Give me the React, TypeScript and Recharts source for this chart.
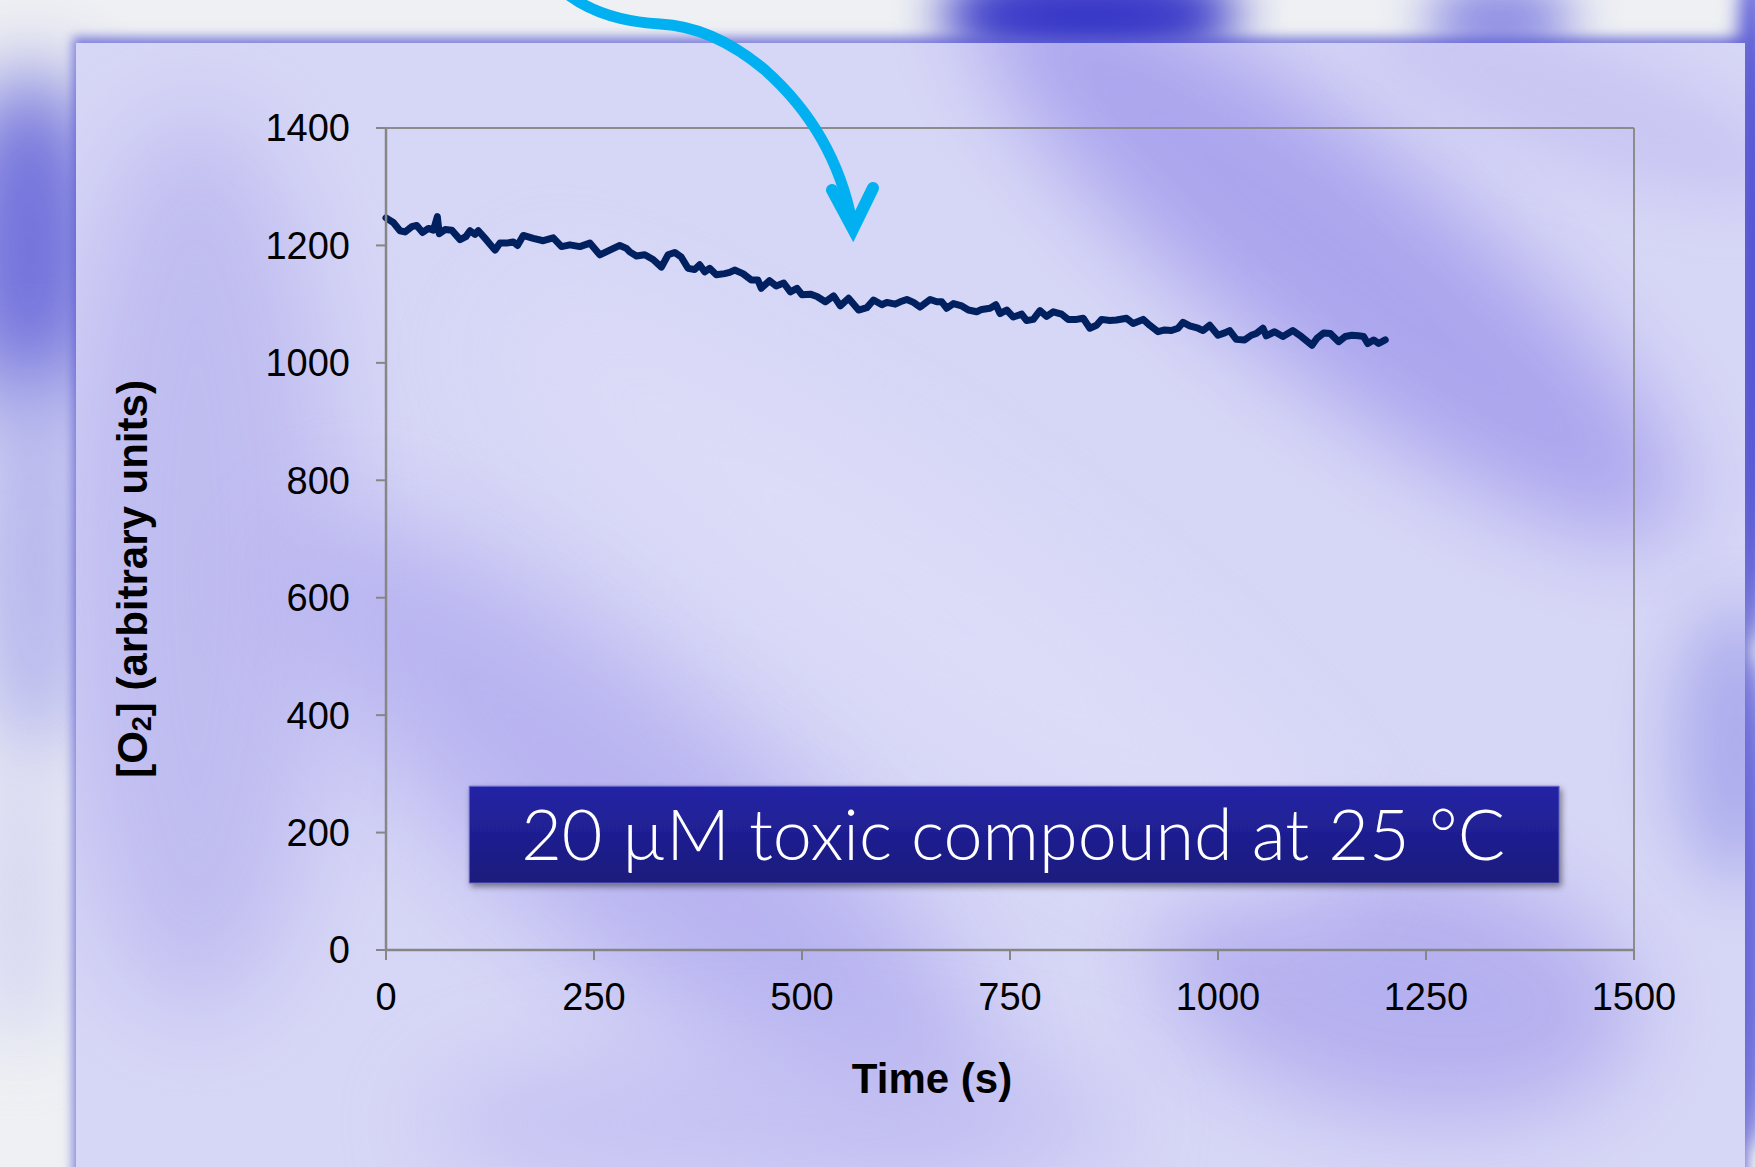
import React from 'react';
import { LineChart, Line, XAxis, YAxis, ReferenceLine, ReferenceArea, Label } from 'recharts';

const timeS: number[] = [
  0, 8.8, 16.8, 22.8, 30.9, 36.9, 44, 51, 57, 61.7, 64, 71, 79, 89, 96, 101, 107, 111, 121, 131,
  137, 145, 153, 158, 165, 177, 189, 201, 211, 221, 233, 245, 257, 269, 281, 289, 293, 301, 311, 321,
  331, 339, 347, 355, 363, 371, 377, 383, 389, 397, 407, 413, 419, 429, 439, 447, 451, 461, 469, 478,
  486, 494, 500, 510, 518, 528, 538, 546, 556, 568, 578, 586, 596, 602, 612, 618, 626, 634, 642, 654,
  662, 668, 674, 682, 692, 700, 710, 716, 726, 733, 738, 746, 754, 764, 770, 778, 786, 794, 802, 812,
  820, 830, 838, 846, 854, 860, 870, 878, 890, 898, 910, 918, 928, 936, 944, 952, 958, 966, 976, 982,
  990, 1000, 1008, 1014, 1022, 1032, 1040, 1046, 1054, 1058, 1068, 1078, 1090, 1100, 1113, 1119, 1127, 1135, 1145, 1153,
  1161, 1169, 1175, 1180, 1187, 1193, 1201,
];

const o2Values: number[] = [
  1247, 1239, 1225, 1223, 1232, 1234, 1222, 1229, 1226, 1249, 1220, 1227, 1226, 1210, 1215, 1225, 1219, 1225, 1209, 1192,
  1204, 1204, 1206, 1200, 1217, 1212, 1208, 1213, 1198, 1201, 1198, 1204, 1184, 1192, 1200, 1195, 1189, 1182, 1184, 1176,
  1163, 1184, 1188, 1180, 1161, 1159, 1167, 1155, 1161, 1150, 1152, 1154, 1158, 1152, 1141, 1141, 1127, 1140, 1131, 1136,
  1121, 1127, 1116, 1117, 1113, 1104, 1114, 1097, 1110, 1090, 1094, 1107, 1099, 1103, 1100, 1104, 1108, 1103, 1095, 1108,
  1104, 1104, 1093, 1101, 1097, 1090, 1087, 1091, 1093, 1099, 1084, 1090, 1078, 1083, 1072, 1074, 1089, 1079, 1087, 1083,
  1074, 1074, 1076, 1059, 1064, 1074, 1072, 1073, 1076, 1067, 1074, 1064, 1053, 1056, 1055, 1059, 1069, 1063, 1059, 1055,
  1064, 1047, 1051, 1055, 1040, 1039, 1047, 1050, 1059, 1046, 1053, 1045, 1055, 1045, 1030, 1042, 1051, 1050, 1036, 1045,
  1047, 1046, 1045, 1033, 1039, 1033, 1039,
];

const xTicks: number[] = [0, 250, 500, 750, 1000, 1250, 1500];
const yTicks: number[] = [0, 200, 400, 600, 800, 1000, 1200, 1400];

const xTitle = 'Time (s)';
const yTitleParts: string[] = ['[O', '2', '] (arbitrary units)'];
const boxText = '20 µM toxic compound at 25 °C';
const boxRange = { x1: 100, x2: 1410, y1: 114, y2: 279 };

const data = timeS.map((t, i) => ({ t, o2: o2Values[i] }));

const AXIS_FONT = '"Liberation Sans", Arial, Helvetica, sans-serif';

const YTitle = (props: any) => {
  const vb = props.viewBox || {};
  const cx = vb.x + vb.width - 254;
  const cy = vb.y + vb.height / 2 + 40;
  return (
    <text
      x={cx}
      y={cy}
      transform={`rotate(-90 ${cx} ${cy})`}
      textAnchor="middle"
      dominantBaseline="central"
      fontFamily={AXIS_FONT}
      fontWeight="bold"
      fontSize={42}
      fill="#000"
    >
      <tspan>{yTitleParts[0]}</tspan>
      <tspan fontSize={27} dy={10}>{yTitleParts[1]}</tspan>
      <tspan dy={-10}>{yTitleParts[2]}</tspan>
    </text>
  );
};

const XTitle = (props: any) => {
  const vb = props.viewBox || {};
  const cx = vb.x + vb.width / 2 - 78;
  const cy = vb.y + 128;
  return (
    <text
      x={cx}
      y={cy}
      textAnchor="middle"
      dominantBaseline="central"
      fontFamily={AXIS_FONT}
      fontWeight="bold"
      fontSize={42}
      fill="#000"
    >
      {xTitle}
    </text>
  );
};

const BoxLabel = (props: any) => {
  const vb = props.viewBox || {};
  const cx = vb.x + vb.width / 2 - 1;
  const cy = vb.y + vb.height / 2 + 25;
  return (
    <text
      x={cx}
      y={cy}
      textAnchor="middle"
      fontFamily='Lato, "Open Sans", "Noto Sans", sans-serif'
      fontWeight={300}
      fontSize={70}
      fill="#ffffff"
      textLength={984}
      lengthAdjust="spacingAndGlyphs"
    >
      {boxText}
    </text>
  );
};

const blob = (
  left: number,
  top: number,
  w: number,
  h: number,
  color: string,
  blur: number,
  rot: number,
  opacity = 1
): React.CSSProperties => ({
  position: 'absolute',
  left: left - w / 2,
  top: top - h / 2,
  width: w,
  height: h,
  background: color,
  borderRadius: '50%',
  filter: `blur(${blur}px)`,
  transform: `rotate(${rot}deg)`,
  opacity,
});

export default function App() {
  return (
    <div
      style={{
        position: 'absolute',
        left: 0,
        top: 0,
        width: 1755,
        height: 1167,
        overflow: 'hidden',
        background: '#eef0f3',
      }}
    >
      {/* outer background decorations */}
      <div style={blob(30, 250, 160, 360, '#5c5cd8', 40, 0, 0.85)} />
      <div style={blob(35, 560, 130, 420, '#b0b0ee', 40, 0, 0.9)} />
      <div style={blob(20, 900, 90, 300, '#d0d0f2', 35, 0, 0.8)} />
      <div style={blob(1090, 15, 300, 110, '#2e2ec6', 25, 0, 0.95)} />
      <div style={blob(1500, 20, 150, 80, '#8080e2', 25, 0, 0.9)} />
      <div style={blob(1752, 300, 40, 700, '#5252d4', 10, 0)} />
      <div style={blob(1752, 900, 40, 500, '#7070dc', 10, 0)} />

      {/* panel */}
      <div
        style={{
          position: 'absolute',
          left: 76,
          top: 43,
          width: 1669,
          height: 1140,
          background: '#d6d6f6',
          boxShadow: '0 -3px 10px 3px rgba(90,90,210,0.75)',
          overflow: 'hidden',
        }}
      >
        <div style={blob(1254, 210, 880, 230, '#a49ded', 45, 38, 0.85)} />
        <div style={blob(1500, 60, 450, 120, '#c4c0f2', 30, 20, 0.7)} />
        <div style={blob(120, 520, 280, 900, '#bcb8f0', 50, 0, 0.85)} />
        <div style={blob(560, 780, 900, 260, '#b3aef0', 55, 40, 0.85)} />
        <div style={blob(1324, 942, 480, 260, '#b0aaee', 45, 10, 0.85)} />
        <div style={blob(850, 560, 1000, 200, '#dedefa', 55, 35, 0.8)} />
        <div style={blob(1660, 700, 120, 280, '#a4a4ec', 35, 0, 0.85)} />
        <div style={blob(700, 1080, 700, 160, '#c0bcf2', 45, 0, 0.7)} />
      </div>

      <div style={{ position: 'absolute', left: 0, top: 0 }}>
        <LineChart
          width={1755}
          height={1167}
          data={data}
          margin={{ top: 128, right: 121, bottom: 157, left: 286 }}
        >
          <defs>
            <linearGradient id="boxGrad" x1="0" y1="0" x2="0" y2="1">
              <stop offset="0%" stopColor="#2424a6" />
              <stop offset="100%" stopColor="#1a1a7c" />
            </linearGradient>
            <filter id="boxShadow" x="-5%" y="-20%" width="110%" height="150%">
              <feDropShadow dx="2" dy="3" stdDeviation="3" floodColor="#000" floodOpacity="0.45" />
            </filter>
          </defs>
          <XAxis
            type="number"
            dataKey="t"
            domain={[0, 1500]}
            ticks={xTicks}
            interval={0}
            height={60}
            tickSize={10}
            tickMargin={23}
            axisLine={{ stroke: '#868686', strokeWidth: 2.5 }}
            tickLine={{ stroke: '#868686', strokeWidth: 2 }}
            tick={{ fontFamily: AXIS_FONT, fontSize: 38, fill: '#000' }}
          >
            <Label content={<XTitle />} />
          </XAxis>
          <YAxis
            type="number"
            domain={[0, 1400]}
            ticks={yTicks}
            interval={0}
            width={100}
            tickSize={10}
            tickMargin={26}
            axisLine={{ stroke: '#868686', strokeWidth: 2.5 }}
            tickLine={{ stroke: '#868686', strokeWidth: 2 }}
            tick={{ fontFamily: AXIS_FONT, fontSize: 38, fill: '#000' }}
          >
            <Label content={<YTitle />} />
          </YAxis>
          <ReferenceLine y={1400} stroke="#8c8c8c" strokeWidth={2} />
          <ReferenceLine x={1500} stroke="#8c8c8c" strokeWidth={2} />
          <Line
            type="linear"
            dataKey="o2"
            stroke="#002060"
            strokeWidth={7}
            strokeLinejoin="round"
            strokeLinecap="round"
            dot={false}
            isAnimationActive={false}
          />
          <ReferenceArea
            x1={boxRange.x1}
            x2={boxRange.x2}
            y1={boxRange.y1}
            y2={boxRange.y2}
            fill="url(#boxGrad)"
            fillOpacity={1}
            stroke="#6a6ad0"
            strokeWidth={1}
            style={{ filter: 'url(#boxShadow)' }}
            label={<BoxLabel />}
          />
        </LineChart>
      </div>

      {/* annotation arrow */}
      <svg
        width={1755}
        height={1167}
        style={{ position: 'absolute', left: 0, top: 0, pointerEvents: 'none' }}
      >
        <path
          d="M 570 -4 C 595 14 625 22 660 24 C 700 26 735 45 765 70 C 810 110 840 160 852 222"
          fill="none"
          stroke="#00b0f0"
          strokeWidth={11}
          strokeLinecap="round"
        />
        <path
          d="M 832 190 L 853 229 L 873 188"
          fill="none"
          stroke="#00b0f0"
          strokeWidth={12}
          strokeLinecap="round"
          strokeLinejoin="miter"
        />
      </svg>
    </div>
  );
}
